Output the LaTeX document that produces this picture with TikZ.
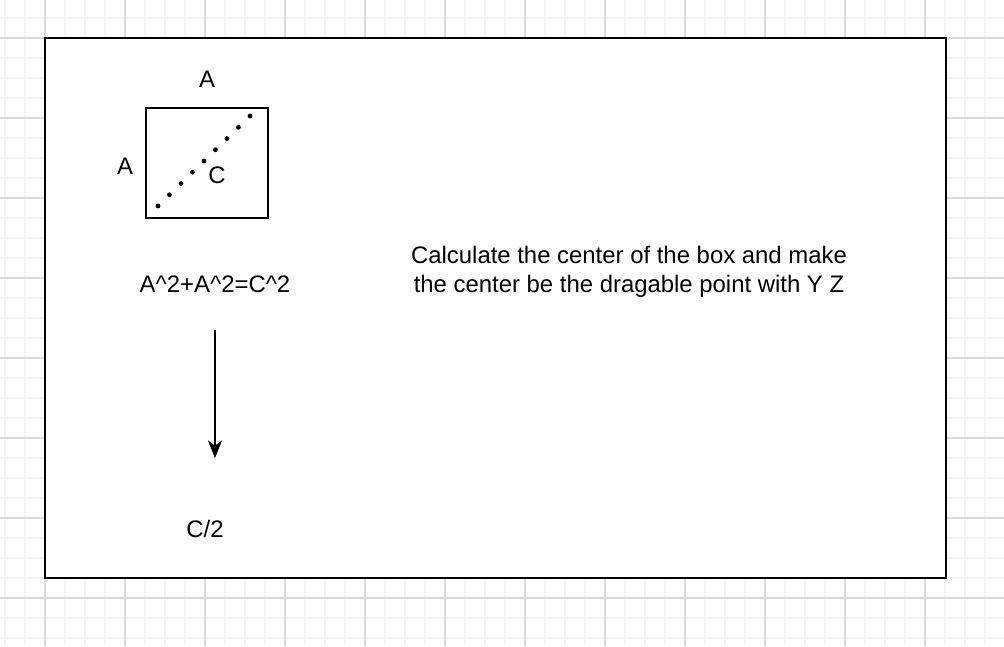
\documentclass[tikz,border=0pt]{standalone}
\usepackage{fontspec}
\setmainfont{Liberation Sans}
\usetikzlibrary{arrows.meta}

\begin{document}
\begin{tikzpicture}[
    labelnode/.style={font=\fontsize{13.6}{16.4}\selectfont, inner sep=0pt, align=center},
    minorline/.style={line width=0.9pt, black!4},
    majorline/.style={line width=0.6pt, black!15}
]
\useasboundingbox (0,0) rectangle (20.08,12.92);

% Background grid
\foreach \x in {0.1,0.5,...,20.1} {
    \draw[minorline] (\x,0) -- (\x,12.92);
}
\foreach \y in {0.16,0.56,...,12.92} {
    \draw[minorline] (0,\y) -- (20.08,\y);
}
\foreach \x in {0.9,2.5,...,20.1} {
    \draw[majorline] (\x,0) -- (\x,12.92);
}
\foreach \y in {0.96,2.56,...,12.92} {
    \draw[majorline] (0,\y) -- (20.08,\y);
}

% Frame
\draw[line width=1.2pt, fill=white] (0.90,1.36) rectangle (18.92,12.16);

% Square with diagonal
\draw[line width=1.1pt] (2.92,8.56) rectangle (5.36,10.76);
\coordinate (diagstart) at (3.16,8.80);
\coordinate (diagend) at (5.02,10.62);
\draw[line width=2.7pt, line cap=round, dash pattern=on 0pt off 9.15pt] (diagstart) -- (diagend);

% Labels
\node[labelnode] (sidetop) at (4.14,11.34) {A};
\node[labelnode] (sideleft) at (2.50,9.60) {A};
\node[labelnode] (diag) at (4.34,9.42) {C};
\node[labelnode] (pythagoras) at (4.30,7.24) {A\^{}2+A\^{}2=C\^{}2};
\node[labelnode] (half) at (4.10,2.34) {C/2};
\node[labelnode] (task) at (12.58,7.49) {Calculate the center of the box and make\\the center be the dragable point with Y Z};

% Arrow
\coordinate (arrowtop) at (4.30,6.32);
\coordinate (arrowtip) at (4.30,3.76);
\draw[line width=0.9pt, -{Stealth[length=10pt, width=8pt, inset=3pt]}] (arrowtop) -- (arrowtip);

\end{tikzpicture}
\end{document}
